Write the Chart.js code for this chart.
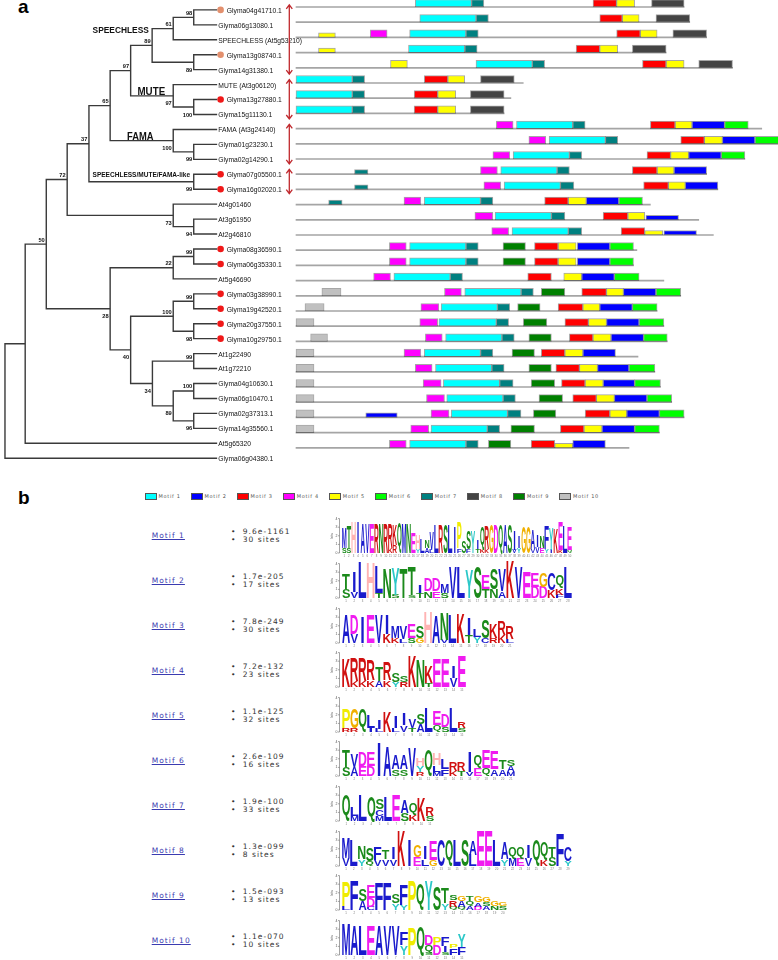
<!DOCTYPE html>
<html>
<head>
<meta charset="utf-8">
<script src="https://cdn.jsdelivr.net/npm/chart.js@4.4.1/dist/chart.umd.min.js"></script>
<style>
html, body { margin: 0; padding: 0; background: #fff; }
#page { position: relative; width: 778px; height: 960px; overflow: hidden; background: #fff; }
canvas { position: absolute; }
.tag { position: absolute; font: bold 19px "Liberation Sans", Arial, sans-serif; line-height: 19px; color: #000; }
.sw { position: absolute; width: 9.5px; height: 5.3px; border: 1px solid #555; }
.lg { position: absolute; font: 5px "DejaVu Sans", sans-serif; line-height: 5px; color: #555; letter-spacing: 0.7px; white-space: nowrap; }
.lnk { position: absolute; font: 7.5px "DejaVu Sans", sans-serif; line-height: 7.5px; color: #3b3bb0; text-decoration: underline; letter-spacing: 1.05px; white-space: nowrap; }
.bul { position: absolute; font: 7.5px "DejaVu Sans", sans-serif; line-height: 7.5px; color: #333; letter-spacing: 1.05px; white-space: nowrap; }
</style>
</head>
<body>
<div id="page">
  <canvas id="motifs" width="488" height="475" style="left:290px;top:0;width:488px;height:475px;z-index:1"></canvas>
  <canvas id="tree" width="340" height="475" style="left:0;top:0;width:340px;height:475px;z-index:2"></canvas>
  <div class="tag" style="left:18px;top:-2.6px">a</div>
  <div class="tag" style="left:18px;top:488.2px">b</div>
</div>
<script>
// ---- panel a: gene rows (top to bottom) ----
const genes = [
  'Glyma04g41710.1', 'Glyma06g13080.1', 'SPEECHLESS (At5g53210)', 'Glyma13g08740.1', 'Glyma14g31380.1',
  'MUTE (At3g06120)', 'Glyma13g27880.1', 'Glyma15g11130.1', 'FAMA (At3g24140)', 'Glyma01g23230.1',
  'Glyma02g14290.1', 'Glyma07g05500.1', 'Glyma16g02020.1', 'At4g01460', 'At3g61950', 'At2g46810',
  'Glyma08g36590.1', 'Glyma06g35330.1', 'At5g46690', 'Glyma03g38990.1', 'Glyma19g42520.1',
  'Glyma20g37550.1', 'Glyma10g29750.1', 'At1g22490', 'At1g72210', 'Glyma04g10630.1',
  'Glyma06g10470.1', 'Glyma02g37313.1', 'Glyma14g35560.1', 'At5g65320', 'Glyma06g04380.1'
];
const markedOrange = [0, 3];
const markedRed = [6, 11, 12, 16, 17, 19, 20, 21, 22];

// internal nodes n1..n30 (id = 101..130): [child, child, depth, bootstrap, label side]
// a child below 100 is a leaf row
const treeNodes = [
  [0, 1, 194.3, '98', 'up'], [101, 2, 173.3, '61', 'up'], [3, 4, 194.3, '89', 'down'],
  [102, 103, 151.7, '89', 'up'], [6, 7, 194.3, '100', 'down'], [5, 105, 173.3, '97', 'down'],
  [104, 106, 129.7, '97', 'up'], [9, 10, 194.3, '99', 'down'], [8, 108, 173.3, '100', 'down'],
  [107, 109, 108.7, '65', 'up'], [11, 12, 194.3, '99', 'down'], [110, 111, 87, '37', 'up'],
  [14, 15, 194.3, '94', 'down'], [13, 113, 173.3, '73', 'down'], [112, 114, 64.7, '72', 'up'],
  [16, 17, 194.3, '99', 'up'], [116, 18, 173.3, '22', 'up'], [19, 20, 194.3, '99', 'up'],
  [21, 22, 194.3, '98', 'down'], [118, 119, 173.3, '100', 'up'], [23, 24, 194.3, '99', 'up'],
  [25, 26, 194.3, '100', 'up'], [27, 28, 194.3, '96', 'down'], [122, 123, 173.3, '89', 'down'],
  [121, 124, 152, '34', 'down'], [120, 125, 129.7, '40', 'down'], [117, 126, 108.7, '28', 'down'],
  [115, 127, 43.3, '50', 'up'], [128, 29, 21.7, '', ''], [129, 30, 1, '', '']
];
const TIP_DEPTH = 218.3;

// clade names: [text, depth, row of baseline, font px, horizontal squeeze]
const cladeNames = [
  ['SPEECHLESS', 90.7, 1.53, 9.3, 0.9],
  ['MUTE', 136.7, 5.70, 10.5, 0.93],
  ['FAMA', 126, 8.70, 10.5, 0.89],
  ['SPEECHLESS/MUTE/FAMA-like', 90.7, 11.16, 7.5, 0.87]
];
const cladeGroups = [[0, 4], [5, 7], [8, 10], [11, 12]];

// motif occurrences per row: [motif, start, end, weak]
const seqLengths = [345, 350, 365, 329, 388, 202, 191, 185, 414, 430, 399, 365, 375, 315, 358, 371,
  303, 300, 327, 342, 321, 327, 330, 304, 319, 324, 334, 345, 323, 296, 0];
const motifSites = [
  [[1,106,156],[7,156,167],[3,264,285],[5,285,301],[8,316,345]],
  [[1,110,160],[7,160,171],[3,270,290],[5,290,305],[8,320,350]],
  [[5,20,35,1],[4,66,81],[1,101,151],[7,151,162],[3,285,306],[5,306,321],[8,335,365]],
  [[5,20,35,1],[1,100,150],[7,150,161],[3,249,270],[5,270,286],[8,299,329]],
  [[5,84,99],[1,160,210],[7,210,221],[3,308,329],[5,329,345],[8,358,388]],
  [[1,0,50],[7,50,61],[3,114,135],[5,135,150],[8,164,194]],
  [[1,0,50],[7,50,61],[3,105,126],[5,126,142],[8,155,185]],
  [[1,0,50],[7,50,61],[3,105,126],[5,126,142],[8,155,185]],
  [[4,178,193],[1,196,246],[7,246,257],[3,315,337],[5,337,352],[2,352,381],[6,381,402]],
  [[4,207,222],[1,225,275],[7,275,286],[3,342,363],[5,363,379],[2,379,408],[6,408,430]],
  [[4,175,190],[1,193,243],[7,243,254],[3,312,333],[5,333,349],[2,349,378],[6,378,399]],
  [[7,52,64,1],[4,164,179],[1,182,232],[7,232,243],[3,299,321],[5,321,336],[2,336,365]],
  [[7,52,64,1],[4,167,182],[1,185,235],[7,235,247],[3,309,331],[5,331,346],[2,346,375]],
  [[7,29,41,1],[4,96,111],[1,114,164],[7,164,175],[3,221,242],[5,242,258],[2,258,287],[6,287,308]],
  [[4,159,175],[1,177,227],[7,227,239],[3,273,295],[5,295,310],[2,311,340,1]],
  [[4,174,189],[1,192,242],[7,242,254],[3,289,310],[5,310,326,1],[2,327,356,1]],
  [[4,83,98],[1,101,151],[7,151,162],[9,184,204],[3,212,233],[5,233,249],[2,250,279],[6,279,300]],
  [[4,83,98],[1,101,151],[7,151,162],[9,184,204],[3,212,233],[5,233,249],[2,250,279],[6,279,300]],
  [[4,69,84],[1,87,137],[7,137,148],[3,206,227],[5,238,254],[2,254,283],[6,283,305]],
  [[10,23,40],[4,132,147],[1,150,200],[7,200,211],[9,218,239],[3,254,276],[5,276,291],[2,291,320],[6,320,342]],
  [[10,8,25],[4,111,127],[1,129,179],[7,179,190],[9,197,217],[3,233,255],[5,255,270],[2,270,299],[6,299,321]],
  [[10,0,16],[4,110,126],[1,127,178],[7,178,189],[9,202,223],[3,239,260],[5,260,276],[2,276,305],[6,305,327]],
  [[10,13,28],[4,115,130],[1,133,183],[7,183,194],[9,207,227],[3,243,264],[5,264,280],[2,280,309],[6,309,330]],
  [[10,0,16],[4,96,111],[1,114,164],[7,164,175],[9,192,212],[3,218,239],[5,239,255],[2,255,284]],
  [[10,0,16],[4,106,121],[1,124,174],[7,174,185],[9,207,227],[3,231,252],[5,252,268],[2,268,296],[6,296,319]],
  [[10,0,16],[4,113,129],[1,131,181],[7,181,193],[9,209,230],[3,236,257],[5,257,273],[2,273,301],[6,301,324]],
  [[10,0,16],[4,116,132],[1,134,184],[7,184,195],[9,216,237],[3,246,267],[5,267,283],[2,283,312],[6,312,334]],
  [[10,0,16],[2,62,90,1],[4,120,136],[1,138,188],[7,188,200],[9,211,231],[3,257,279],[5,279,294],[2,294,323],[6,323,345]],
  [[10,0,16],[4,102,118],[1,120,170],[7,170,181],[9,191,212],[3,235,256],[5,256,272],[2,272,301],[6,301,323]],
  [[4,83,98],[1,101,151],[7,151,162],[9,171,191],[3,209,230],[5,230,246,1],[2,246,275]],
  []
];

// ---- panel b ----
const motifNames = ['Motif 1', 'Motif 2', 'Motif 3', 'Motif 4', 'Motif 5', 'Motif 6', 'Motif 7', 'Motif 8', 'Motif 9', 'Motif 10'];
const motifColors = ['#00ffff', '#0000ff', '#ff0000', '#ff00ff', '#ffff00', '#00ff00', '#008080', '#444444', '#008000', '#c0c0c0'];
const motifEvalues = ['9.6e-1161', '1.7e-205', '7.8e-249', '7.2e-132', '1.1e-125', '2.6e-109', '1.9e-100', '1.3e-099', '1.5e-093', '1.1e-070'];
const motifSiteCounts = [30, 17, 30, 23, 32, 16, 33, 8, 13, 10];
// logo columns, letters top to bottom with height in bits
const logoColumns = [
  'M2.4S.6 T2.6S.6 H3.6 I3.6 A3.4 V3.4 E3.4 R3.4 N3.4 R3.4 R2.8K.6 K2.4R.9 Q3.4 M3.4 N3.4 E2.4 H1.6Y.5 L1.6 N.9A.6 V2L.4 L3.2 R3.3 S3.3 L3.3 I3 P3F.5 S1.3 S2.2F.4 Y2.5 I1.1T.5 Q2.6K.4 R2.6K.5 G3.3 D3.3 Q3.3 A3.3 S3.3 I2.3V.4 I1.4Y.6 G3 G3 A2.2V.5 I1.4V.7 N1.4E.6 F2.7Y.4 Y2.5I.4 K2.8 E3.2K.3 L3.1 E2.7Q.4',
  'T1.8S1.1 I2.4V.7 L4.1 H4.1 L3.1T.6 N3.5 Y3.1S.4 T3.4 T3.3S.3 I.9T.6 D1.5N.8 D1.5E.8 M1.1S.6 V3.5 L3.5 Y3.3 S3.7 E1.6T1.1 S2.5N1 V2.5A.8 K4.3 V3.5 E2.9 E1.6D1.3 G1.6D1.3 C1.9K.9 Q1.6K.8F.4 L3.5',
  'A3.3 D2.2V1 I3 E3.3 V3.3 I2.2K1 M1.3K.6 V1.5L.5 E1.6S.6 S1.4G.6 H3.6 A3.2 N3.2V.4 L3.3 K3.4 I2T.9 L.9Y.7 S2.1C.6 K1.6R.6 R1.6K.9 R1.4L.5',
  'K3.3 R2.6K.7 R2.6K.7 R2.4K.8 T1.6A.7 R2K.8 S1.1Y.6 S.7R.6 K3.6 N3.2 K1.9T.5 E3.3 E3.3 I1.4V1 E3.6',
  'P2.3R.4 G2.3R.4 Q2.7 L1.5I.5 I1.1L.4 K2.4 I1.3L.5 I1.3V.8 V1.1T.5 S1.2A.9 L2.8 E1.6Q.8 D1.5S.6 L2.8 R.8S.5',
  'T1.9S1.1 V1.5A1.1 D1.6E1.2 E1.6D1.2 I3.9 A3.5 A1.7S.8 A1.7S.8 V3.3 H.9Y.7R.5 Q3 H1.3L.8M.5 L1.2F.8 R1K.6 R1T.6 I2.4V.5 Q1.6E.9 E2Q.9 E2A.8 T1A.8 S.8A.7M.5',
  'Q3.1 L1M.6 L3 Q2.8 S1.2C.8M.6 L2.8 E3 A1.5S.9 Q1.3K.8 K2.7 R1.1S.6',
  'M2.4V.9 L2.9 N1.5Y.8 S1.5Q.6 F1.5V.7 T1V.8 I1.3V.8 K4 I3 G1.4E1 I1.5L.8 E2.2G.7 C3 Q3 L3 S3 A1.7L1.3 E4 E4 L3 A1.9Y.8 Q1.3M.9 Q1.3E.9 I1.5V.9 Q3 Q2.1K.7 T1.2S1 F3.7 C1.7Y.6',
  'P2.9L.4 F3.4 S1.3A1 E1.4D1C.4 F3.1 F3.1 S1Y.8 F2.4Y.6 P3.4 Q3.1 Y3.4 S2.7 T1.8Y.8 S.6R.7Q.4 G.6A.7Q.3 T.6Q.6A.4 G.7A.5D.4 G.6S.5A.4 G.6N.5 G.5S.5',
  'M3.6 A3.4 L3.4 E3.4 A3.4 V3.4 V3.4 F1.5Y1.1 P3.2 Q3.2 D1.2Q.9S.3 P.9D1.2 F1.1I.7S.3 P.5F.8 Y1.5F.9'
];
const logoWidths = [230, 230, 172, 124, 124, 173, 92, 230, 165, 124];

const aaColors = {
  A: '#1a1acc', C: '#1a1acc', F: '#1a1acc', I: '#1a1acc', L: '#1a1acc', V: '#1a1acc', W: '#1a1acc', M: '#1a1acc',
  N: '#1b8a1b', Q: '#1b8a1b', S: '#1b8a1b', T: '#1b8a1b', D: '#f01cf0', E: '#f01cf0',
  K: '#d01010', R: '#d01010', H: '#ffb3b3', G: '#f0b000', P: '#f0ec00', Y: '#2cc8c8'
};

// ---- layout ----
const ROW_PX = 15.2, ROW0_PX = 6, PANEL_A_H = 475;
const Y_MIN = -ROW0_PX / ROW_PX, Y_MAX = Y_MIN + PANEL_A_H / ROW_PX;
const AA_PX = 1.125;          // pixels per residue
const LINE_OFF = 1 / ROW_PX, BAR_OFF = -2.75 / ROW_PX, WEAK_OFF = -1.25 / ROW_PX;

Chart.defaults.font.family = '"Liberation Sans", Arial, sans-serif';

function narrowText(ctx, text, x, y, sx, font, align) {
  ctx.save();
  ctx.font = font;
  ctx.textAlign = align;
  ctx.textBaseline = 'alphabetic';
  ctx.translate(x, y);
  ctx.scale(sx, 1);
  ctx.fillText(text, 0, 0);
  ctx.restore();
}

// ---- tree ----
const nodeY = {}, nodeX = {};
genes.forEach((g, i) => { nodeY[i] = i; nodeX[i] = TIP_DEPTH; });
treeNodes.forEach((n, k) => {
  nodeY[101 + k] = (nodeY[n[0]] + nodeY[n[1]]) / 2;
  nodeX[101 + k] = n[2];
});

const branchSets = treeNodes.map(n => ({
  data: [
    { x: nodeX[n[0]], y: nodeY[n[0]] }, { x: n[2], y: nodeY[n[0]] },
    { x: n[2], y: nodeY[n[1]] }, { x: nodeX[n[1]], y: nodeY[n[1]] }
  ],
  showLine: true, borderColor: '#3a3a3a', borderWidth: 1.4, pointRadius: 0,
  fill: false, tension: 0, borderJoinStyle: 'miter'
}));

const dotSets = [
  { data: markedOrange.map(r => ({ x: TIP_DEPTH + 3.5, y: r })), pointRadius: 3.3,
    pointBackgroundColor: '#e3906e', pointBorderWidth: 0, showLine: false },
  { data: markedRed.map(r => ({ x: TIP_DEPTH + 3.5, y: r })), pointRadius: 3.3,
    pointBackgroundColor: '#f01818', pointBorderWidth: 0, showLine: false }
];

const treeText = {
  id: 'treeText',
  afterDatasetsDraw(chart) {
    const { ctx, scales: { x, y } } = chart;
    ctx.save();
    ctx.fillStyle = '#111';
    genes.forEach((g, i) => {
      const dotted = markedRed.includes(i) || markedOrange.includes(i);
      const px = x.getPixelForValue(TIP_DEPTH) + (dotted ? 9.7 : 1.2);
      narrowText(ctx, g, px, y.getPixelForValue(i) + 2.9, 0.84, '8px "Liberation Sans"', 'left');
    });
    treeNodes.forEach((n, k) => {
      if (!n[3]) return;
      const px = x.getPixelForValue(n[2]) - 1.5;
      const py = y.getPixelForValue(nodeY[101 + k]) + (n[4] === 'up' ? -2.5 : 9.5);
      narrowText(ctx, n[3], px, py, 0.95, 'bold 6px "Liberation Sans"', 'right');
    });
    cladeNames.forEach(c => {
      narrowText(ctx, c[0], x.getPixelForValue(c[1]), y.getPixelForValue(c[2]), c[4],
        'bold ' + c[3] + 'px "Liberation Sans"', 'left');
    });
    // red double arrows beside the clades
    ctx.strokeStyle = '#c0282d';
    ctx.lineWidth = 1.3;
    const ax = 289.3;
    cladeGroups.forEach(([a, b]) => {
      const top = y.getPixelForValue(a) - 5, bot = y.getPixelForValue(b) + 4.5;
      ctx.beginPath();
      ctx.moveTo(ax, top); ctx.lineTo(ax, bot);
      ctx.moveTo(ax - 3, top + 4); ctx.lineTo(ax, top); ctx.lineTo(ax + 3, top + 4);
      ctx.moveTo(ax - 3, bot - 4); ctx.lineTo(ax, bot); ctx.lineTo(ax + 3, bot - 4);
      ctx.stroke();
    });
    ctx.restore();
  }
};

new Chart(document.getElementById('tree'), {
  type: 'scatter',
  data: { datasets: [...branchSets, ...dotSets] },
  options: {
    responsive: false, animation: false, events: [],
    layout: { padding: 0 },
    plugins: { legend: { display: false }, tooltip: { enabled: false } },
    scales: {
      x: { type: 'linear', display: false, min: 0, max: 340 },
      y: { type: 'linear', display: false, reverse: true, min: Y_MIN, max: Y_MAX }
    }
  },
  plugins: [treeText]
});

// ---- motif blocks ----
const motifSets = [];
motifColors.forEach((col, m) => {
  [0, 1].forEach(weak => {
    const data = [];
    motifSites.forEach((row, r) => row.forEach(s => {
      if (s[0] === m + 1 && !!s[3] === !!weak) data.push({ x: [s[1], s[2]], y: r + (weak ? WEAK_OFF : BAR_OFF) });
    }));
    motifSets.push({
      label: motifNames[m], data, backgroundColor: col, borderColor: 'rgba(0,0,0,0.35)',
      borderWidth: 1, borderSkipped: false, barThickness: weak ? 4.5 : 7.5, grouped: false, order: 0
    });
  });
});
motifSets.push({
  label: 'sequence',
  data: seqLengths.map((len, r) => ({ x: [0, len], y: r + LINE_OFF })).filter(d => d.x[1] > 0),
  backgroundColor: '#a5a5a5', borderWidth: 0, barThickness: 1, grouped: false, order: 10
});

new Chart(document.getElementById('motifs'), {
  type: 'bar',
  data: { datasets: motifSets },
  options: {
    indexAxis: 'y', responsive: false, animation: false, events: [],
    layout: { padding: 0 },
    plugins: { legend: { display: false }, tooltip: { enabled: false } },
    scales: {
      x: { type: 'linear', display: false, min: -6 / AA_PX, max: (488 - 6) / AA_PX },
      y: { type: 'linear', display: false, reverse: true, offset: false, min: Y_MIN, max: Y_MAX }
    }
  }
});

// ---- panel b: legend and motif table ----
const page = document.getElementById('page');
function addDiv(cls, left, top, text, extra) {
  const d = document.createElement('div');
  d.className = cls;
  d.style.left = left + 'px';
  d.style.top = top + 'px';
  if (text) d.textContent = text;
  if (extra) Object.assign(d.style, extra);
  page.appendChild(d);
  return d;
}
motifNames.forEach((name, k) => {
  const lx = 145 + 46.05 * k;
  addDiv('sw', lx, 492.7, '', { background: motifColors[k] });
  addDiv('lg', lx + 13.5, 493.8, name);
  const dy = 45 * k;
  addDiv('lnk', 151.7, 532 + dy, name);
  addDiv('bul', 231, 527.7 + dy, '\u2022');
  addDiv('bul', 242.7, 527.7 + dy, motifEvalues[k]);
  addDiv('bul', 231, 536 + dy, '\u2022');
  addDiv('bul', 242.7, 536 + dy, motifSiteCounts[k] + ' sites');
});

function drawGlyph(ctx, ch, left, top, w, h, color) {
  ctx.save();
  ctx.font = 'bold 100px "Liberation Sans"';
  ctx.textAlign = 'left';
  ctx.textBaseline = 'alphabetic';
  const m = ctx.measureText(ch);
  const gw = m.actualBoundingBoxLeft + m.actualBoundingBoxRight;
  const gh = m.actualBoundingBoxAscent + m.actualBoundingBoxDescent;
  if (ch === 'I') { left += w * 0.33; w *= 0.34; }
  ctx.translate(left, top);
  ctx.scale(w / gw, h / gh);
  ctx.fillStyle = color;
  ctx.fillText(ch, m.actualBoundingBoxLeft, m.actualBoundingBoxAscent);
  ctx.restore();
}

const logoLetters = {
  id: 'logoLetters',
  afterDatasetsDraw(chart) {
    const ctx = chart.ctx, ca = chart.chartArea, ys = chart.scales.y, xs = chart.scales.x;
    chart.data.datasets.forEach((ds, di) => {
      chart.getDatasetMeta(di).data.forEach((el, i) => {
        const L = ds.letters[i];
        if (!L) return;
        const p = el.getProps(['x', 'y', 'base', 'width'], true);
        const h = p.base - p.y;
        if (h < 0.3) return;
        drawGlyph(ctx, L, p.x - p.width / 2, p.y, p.width, h, aaColors[L] || '#888');
      });
    });
    // small bits axis and position numbers
    ctx.save();
    ctx.strokeStyle = '#666';
    ctx.fillStyle = '#555';
    ctx.lineWidth = 0.6;
    const ax = ca.left - 2.5;
    ctx.beginPath();
    ctx.moveTo(ax, ys.getPixelForValue(0));
    ctx.lineTo(ax, ys.getPixelForValue(4));
    for (let v = 0; v <= 4; v++) {
      const py = ys.getPixelForValue(v);
      ctx.moveTo(ax - 1.5, py); ctx.lineTo(ax, py);
    }
    ctx.stroke();
    ctx.font = '3.5px "Liberation Sans"';
    ctx.textAlign = 'right';
    ctx.textBaseline = 'middle';
    for (let v = 0; v <= 4; v++) ctx.fillText(String(v), ax - 2, ys.getPixelForValue(v));
    ctx.save();
    ctx.translate(ax - 7, ys.getPixelForValue(2));
    ctx.rotate(-Math.PI / 2);
    ctx.textAlign = 'center';
    ctx.fillText('bits', 0, 0);
    ctx.restore();
    ctx.font = '2.8px "Liberation Sans"';
    ctx.textAlign = 'center';
    ctx.fillStyle = '#777';
    chart.data.labels.forEach((lab, i) => ctx.fillText(lab, xs.getPixelForValue(i), ca.bottom + 3));
    ctx.restore();
  }
};

logoColumns.forEach((colStr, k) => {
  const cols = colStr.split(' ').map(c => [...c.matchAll(/([A-Z])(\d*\.?\d+)/g)].map(m => [m[1], parseFloat(m[2])]));
  const depth = Math.max(...cols.map(c => c.length));
  const datasets = [];
  for (let j = 0; j < depth; j++) {
    // j = 0 is the bottom layer: letters are listed top to bottom
    const letters = cols.map(c => (c.length > j ? c[c.length - 1 - j][0] : ''));
    const heights = cols.map(c => (c.length > j ? c[c.length - 1 - j][1] : 0));
    datasets.push({ data: heights, letters, backgroundColor: 'rgba(0,0,0,0)', borderWidth: 0,
      barPercentage: 0.94, categoryPercentage: 1 });
  }
  const w = logoWidths[k];
  const cv = document.createElement('canvas');
  const baseline = 553.3 + 44.6 * k;
  cv.width = w + 24;
  cv.height = 47;
  cv.style.left = '322px';
  cv.style.top = (baseline - 39) + 'px';
  cv.style.width = cv.width + 'px';
  cv.style.height = cv.height + 'px';
  page.appendChild(cv);
  new Chart(cv, {
    type: 'bar',
    data: { labels: cols.map((c, i) => String(i + 1)), datasets },
    options: {
      responsive: false, animation: false, events: [],
      layout: { padding: { left: 20, right: 4, top: 2, bottom: 8 } },
      plugins: { legend: { display: false }, tooltip: { enabled: false } },
      scales: {
        x: { stacked: true, display: false },
        y: { stacked: true, display: false, min: 0, max: 4.3 }
      }
    },
    plugins: [logoLetters]
  });
});
</script>
</body>
</html>
